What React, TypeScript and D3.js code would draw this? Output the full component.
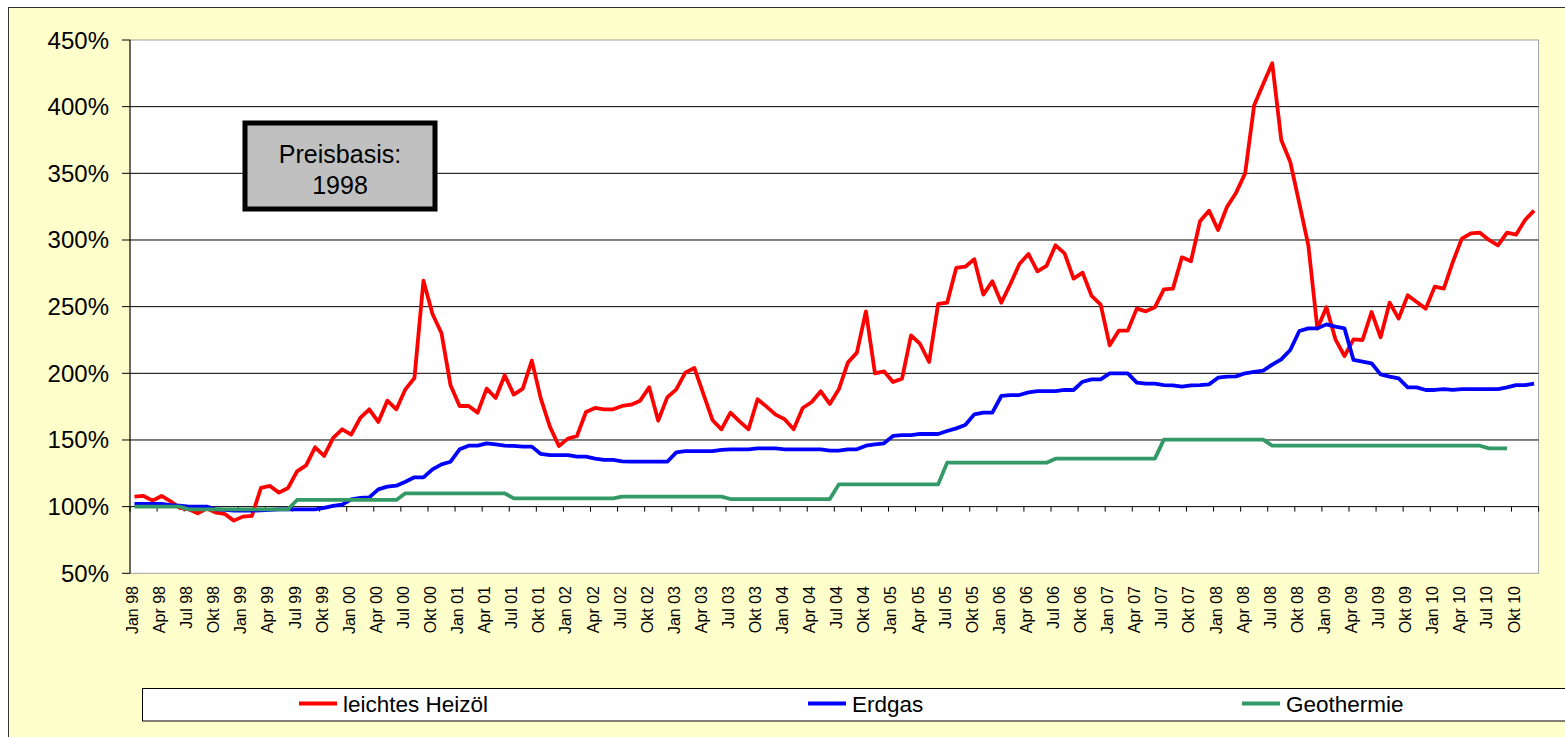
import * as d3 from 'd3';

// monthly price index, Jan 98 = category 0 ... Dez 10 = category 155
const monthNames = ['Jan', 'Feb', 'Mrz', 'Apr', 'Mai', 'Jun', 'Jul', 'Aug', 'Sep', 'Okt', 'Nov', 'Dez'];
const years = ['98', '99', '00', '01', '02', '03', '04', '05', '06', '07', '08', '09', '10'];
const categories = years.flatMap(y => monthNames.map(m => `${m} ${y}`));

const heizoel = [
  107.5, 108, 104.5, 108, 104, 99, 98, 95, 98.5, 95.5, 94.5, 89.5,
  92.5, 93, 114, 115.5, 110.5, 114, 126.5, 131, 144.5, 138, 151.5, 158,
  154, 166.5, 173, 163.5, 179.5, 173, 188, 196.5, 269.5, 244.5, 230, 191,
  175.5, 175.5, 170.5, 188.5, 181.5, 198.5, 184, 188.5, 209.5, 181, 160, 145.5,
  151, 153, 171, 174, 173, 173, 175.5, 176.5, 179.5, 189.5, 164.5, 182,
  188, 200.5, 204, 184.5, 165, 158, 170.5, 164, 158, 180.5, 175, 169,
  165.5, 158, 174, 178.5, 186.5, 177, 188, 208, 215.5, 246.5, 200, 201.5,
  193.5, 196, 228.5, 222, 208.5, 252, 253, 279, 280, 285.5, 259, 269,
  253, 267, 282, 289.5, 276.5, 280.5, 296, 290, 271, 275.5, 258, 251.5,
  221, 232, 232, 248.5, 246.5, 249.5, 263, 263.5, 287, 284, 314, 322,
  307.5, 325, 335.5, 350, 401, 417, 432.5, 375, 358.5, 327.5, 296, 233.5,
  249.5, 225.5, 213, 225.5, 225, 246, 227, 253, 241, 258.5, 253.5, 248.5,
  265, 263.5, 283.5, 301, 305, 305.5, 300, 296, 305.5, 304, 315, 322,
];

const erdgas = [
  102, 102, 102, 102, 101.2, 100.7, 100, 100, 100, 98, 97.5, 97,
  97, 97, 97.2, 97.5, 98, 98, 98, 98, 98, 99, 100.5, 101.5,
  105.5, 106.5, 107, 113, 115, 115.7, 118.7, 122, 122, 128, 131.7, 133.7,
  143, 145.7, 145.7, 147.5, 146.7, 145.7, 145.5, 145, 145, 139.5, 138.7, 138.7,
  138.7, 137.5, 137.5, 136, 135, 135, 134, 133.7, 133.7, 133.7, 133.7, 133.7,
  140.7, 141.7, 141.7, 141.7, 141.7, 142.5, 143, 143, 143, 143.7, 143.7, 143.7,
  143, 143, 143, 143, 143, 142, 142, 143, 143, 145.7, 146.7, 147.5,
  153, 153.7, 153.7, 154.5, 154.5, 154.5, 156.7, 158.7, 161.2, 169.2, 170.5, 170.5,
  183, 183.7, 183.7, 185.7, 186.7, 186.7, 186.7, 187.5, 187.5, 193.7, 195.5, 195.5,
  200, 200, 200, 193, 192.2, 192.2, 191.2, 191, 190, 191, 191.2, 191.7,
  196.7, 197.5, 197.7, 200, 201, 202, 206.5, 210.5, 217.5, 231.7, 233.7, 233.7,
  236.7, 235, 233.7, 210, 208.7, 207.5, 199.2, 197.5, 196.2, 189.5, 189.5, 187.5,
  187.5, 188.2, 187.5, 188.2, 188.2, 188.2, 188.2, 188.2, 189.5, 191.2, 191.2, 192.2,
];

const geothermie: (number | null)[] = [
  100, 100, 100, 100, 100, 100, 98, 98, 98, 98, 98, 98,
  98, 98, 98, 98, 98, 98, 105, 105, 105, 105, 105, 105,
  105, 105, 105, 105, 105, 105, 110, 110, 110, 110, 110, 110,
  110, 110, 110, 110, 110, 110, 106.2, 106.2, 106.2, 106.2, 106.2, 106.2,
  106.2, 106.2, 106.2, 106.2, 106.2, 106.2, 107.5, 107.5, 107.5, 107.5, 107.5, 107.5,
  107.5, 107.5, 107.5, 107.5, 107.5, 107.5, 105.7, 105.7, 105.7, 105.7, 105.7, 105.7,
  105.7, 105.7, 105.7, 105.7, 105.7, 105.7, 116.7, 116.7, 116.7, 116.7, 116.7, 116.7,
  116.7, 116.7, 116.7, 116.7, 116.7, 116.7, 133, 133, 133, 133, 133, 133,
  133, 133, 133, 133, 133, 133, 136, 136, 136, 136, 136, 136,
  136, 136, 136, 136, 136, 136, 150.3, 150.3, 150.3, 150.3, 150.3, 150.3,
  150.3, 150.3, 150.3, 150.3, 150.3, 150.3, 145.7, 145.7, 145.7, 145.7, 145.7, 145.7,
  145.7, 145.7, 145.7, 145.7, 145.7, 145.7, 145.7, 145.7, 145.7, 145.7, 145.7, 145.7,
  145.7, 145.7, 145.7, 145.7, 145.7, 145.7, 143.7, 143.7, 143.7, null, null, null,
];

const yTicks = [50, 100, 150, 200, 250, 300, 350, 400, 450];

const series = [
  { name: 'leichtes Heizöl', values: heizoel, color: '#FF0000' },
  { name: 'Erdgas', values: erdgas, color: '#0000FF' },
  { name: 'Geothermie', values: geothermie, color: '#339966' },
];

const FONT = '"Liberation Sans", Arial, sans-serif';
const legendX = [299, 808, 1242];

export default function App() {
  const W = 1565;
  const H = 737;
  const left = 130;
  const right = 1538.6;
  const top = 40;
  const bottom = 573.3;

  const x = d3.scaleBand<number>().domain(d3.range(categories.length)).range([left, right]);
  const cx = (i: number) => (x(i) as number) + x.bandwidth() / 2;
  const y = d3.scaleLinear().domain([50, 450]).range([bottom, top]);

  const line = d3.line<number | null>()
    .defined(d => d != null)
    .x((_, i) => cx(i))
    .y(d => y(d as number));

  const tickIdx = d3.range(0, categories.length + 1, 3);
  const labelIdx = d3.range(0, categories.length, 3);

  return (
    <svg width={W} height={H} style={{ position: 'absolute', left: 0, top: 0, display: 'block' }}>
      <rect x={0} y={0} width={W} height={H} fill="#fff" />
      <rect x={8.5} y={7.5} width={1700} height={900} fill="#FFFFCC" stroke="#333" />

      {/* plot area */}
      <rect x={left} y={top} width={right - left} height={bottom - top} fill="#fff" stroke="#A0A0A0" />
      {yTicks.filter(t => t > 100 && t < 450).map(t => (
        <line key={t} x1={left} x2={right} y1={y(t)} y2={y(t)} stroke="#000" strokeWidth={1} />
      ))}

      {/* y axis */}
      <line x1={left} x2={left} y1={top} y2={bottom} stroke="#000" />
      {yTicks.map(t => (
        <g key={t}>
          <line x1={left - 8} x2={left} y1={y(t)} y2={y(t)} stroke="#000" />
          <text x={109} y={y(t) + 8.5} textAnchor="end" fontFamily={FONT} fontSize={24} fill="#000">
            {t}%
          </text>
        </g>
      ))}

      {/* category axis crossing at 100% */}
      <line x1={left} x2={right} y1={y(100)} y2={y(100)} stroke="#000" />
      {tickIdx.map(i => {
        const tx = left + i * x.step();
        return <line key={i} x1={tx} x2={tx} y1={y(100)} y2={y(100) + 5} stroke="#000" />;
      })}
      {labelIdx.map(i => (
        <text
          key={i}
          transform={`translate(${cx(i) + 3.5},586) rotate(-90)`}
          textAnchor="end"
          fontFamily={FONT}
          fontSize={16}
          fill="#000"
        >
          {categories[i]}
        </text>
      ))}

      {series.map(s => (
        <path key={s.name} d={line(s.values) || ''} fill="none" stroke={s.color} strokeWidth={3.8} strokeLinejoin="round" />
      ))}

      {/* note box */}
      <rect x={245} y={123} width={190} height={86} fill="#C0C0C0" stroke="#000" strokeWidth={5} />
      <text x={340} y={163} textAnchor="middle" fontFamily={FONT} fontSize={25} fill="#000">Preisbasis:</text>
      <text x={340} y={194} textAnchor="middle" fontFamily={FONT} fontSize={25} fill="#000">1998</text>

      {/* legend */}
      <rect x={142.5} y={688.5} width={1500} height={32.5} fill="#fff" stroke="#000" />
      {series.map((s, k) => (
        <g key={s.name}>
          <line x1={legendX[k]} x2={legendX[k] + 38} y1={703.5} y2={703.5} stroke={s.color} strokeWidth={4} />
          <text x={legendX[k] + 44} y={712} fontFamily={FONT} fontSize={22.5} fill="#000">{s.name}</text>
        </g>
      ))}
    </svg>
  );
}
